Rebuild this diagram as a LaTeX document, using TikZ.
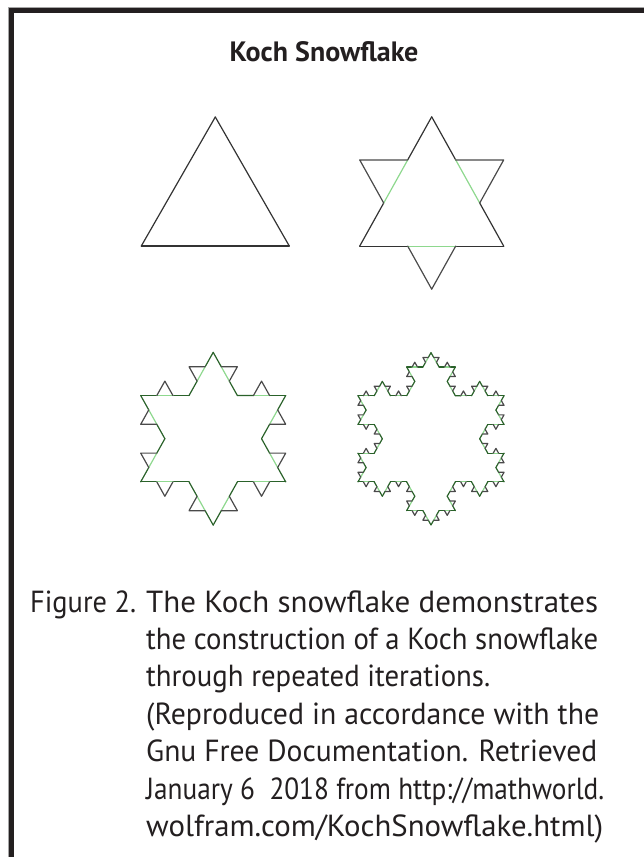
\documentclass[tikz,border=0pt]{standalone}
\usepackage{graphicx}
\usepackage{fontspec}
\setmainfont{PT Sans}
\definecolor{framecol}{HTML}{231F20}
\definecolor{inkcol}{HTML}{333333}
\definecolor{bumpcol}{HTML}{4A4A4A}
\definecolor{keptgreen}{HTML}{2A622A}
\definecolor{lightgreen}{HTML}{8ED88E}
\tikzset{
  keptline/.style={draw=inkcol, line width=1.2pt, line cap=round},
  midline/.style={draw=lightgreen, line width=1.2pt, line cap=round},
  bumpline/.style={draw=bumpcol, line width=1.2pt, line cap=round, line join=round},
  plainline/.style={draw=inkcol, line width=1.2pt, line cap=round},
  captext/.style={inner sep=0pt, anchor=base west, text=framecol, font=\fontsize{30.5}{37}\selectfont},
}
\newcommand\fitline[2]{\resizebox{#1pt}{\height}{#2}}
\newcommand\kochsegs[5]{%
  \ifnum#1=0\relax
    \kochleaf{#2}{#3}{#4}{#5}%
  \else
    \begingroup
      \pgfmathsetmacro\kpx{#2+(#4-#2)/3}%
      \pgfmathsetmacro\kpy{#3+(#5-#3)/3}%
      \pgfmathsetmacro\kqx{#2+2*(#4-#2)/3}%
      \pgfmathsetmacro\kqy{#3+2*(#5-#3)/3}%
      \pgfmathsetmacro\ktx{\kpx+0.5*(\kqx-\kpx)-0.8660254*(\kqy-\kpy)}%
      \pgfmathsetmacro\kty{\kpy+0.8660254*(\kqx-\kpx)+0.5*(\kqy-\kpy)}%
      \pgfmathtruncatemacro\kd{#1-1}%
      \edef\knext{%
        \noexpand\kochsegs{\kd}{#2}{#3}{\kpx}{\kpy}%
        \noexpand\kochsegs{\kd}{\kpx}{\kpy}{\ktx}{\kty}%
        \noexpand\kochsegs{\kd}{\ktx}{\kty}{\kqx}{\kqy}%
        \noexpand\kochsegs{\kd}{\kqx}{\kqy}{#4}{#5}}%
    \expandafter\endgroup\knext
  \fi}
\newcommand\kochplainleaf[4]{\draw[plainline] (#1,#2) -- (#3,#4);}
\newcommand\kochbumpleaf[4]{%
  \begingroup
    \pgfmathsetmacro\kpx{#1+(#3-#1)/3}%
    \pgfmathsetmacro\kpy{#2+(#4-#2)/3}%
    \pgfmathsetmacro\kqx{#1+2*(#3-#1)/3}%
    \pgfmathsetmacro\kqy{#2+2*(#4-#2)/3}%
    \pgfmathsetmacro\ktx{\kpx+0.5*(\kqx-\kpx)-0.8660254*(\kqy-\kpy)}%
    \pgfmathsetmacro\kty{\kpy+0.8660254*(\kqx-\kpx)+0.5*(\kqy-\kpy)}%
    \draw[keptline] (#1,#2) -- (\kpx,\kpy);
    \draw[keptline] (\kqx,\kqy) -- (#3,#4);
    \draw[midline] (\kpx,\kpy) -- (\kqx,\kqy);
    \draw[bumpline] (\kpx,\kpy) -- (\ktx,\kty) -- (\kqx,\kqy);
  \endgroup}
\newcommand\kochtriangle[1]{%
  \kochsegs{#1}{0}{-0.5773503}{-0.5}{0.2886751}%
  \kochsegs{#1}{-0.5}{0.2886751}{0.5}{0.2886751}%
  \kochsegs{#1}{0.5}{0.2886751}{0}{-0.5773503}}
\begin{document}
\begin{tikzpicture}[x=1pt,y=-1pt]
\useasboundingbox (0,0) rectangle (644,857);
% frame (top and left only)
\fill[black!35] (8,6.6) rectangle (644,12.8);
\fill[framecol] (9,7.6) rectangle (644,12.8);
\fill[black!35] (8,6.6) rectangle (14,857);
\fill[framecol] (9,7.6) rectangle (14,857);
% title
\node[inner sep=0pt, text=framecol, font=\fontsize{28}{32}\selectfont\bfseries] (title) at (324,52) {Koch Snowflake};
% iteration 0: triangle
\begin{scope}[shift={(215.3,203)}, xscale=148, yscale=149]
  \let\kochleaf\kochplainleaf
  \kochtriangle{0}
\end{scope}
% iteration 1: star
\begin{scope}[shift={(431.7,203)}, xscale=144, yscale=149.3]
  \let\kochleaf\kochbumpleaf
  \kochtriangle{0}
\end{scope}
% iteration 2
\begin{scope}[shift={(213.2,438.7)}, xscale=145, yscale=149.6]
  \tikzset{keptline/.style={draw=keptgreen, line width=1.2pt, line cap=round}}
  \let\kochleaf\kochbumpleaf
  \kochtriangle{1}
\end{scope}
% iteration 3
\begin{scope}[shift={(431,438.8)}, xscale=146, yscale=149.2]
  \tikzset{keptline/.style={draw=keptgreen, line width=1.2pt, line cap=round},
           midline/.style={draw=lightgreen, line width=1.2pt, line cap=round},
           bumpline/.style={draw=bumpcol, line width=1.2pt, line cap=round, line join=round}}
  \let\kochleaf\kochbumpleaf
  \kochtriangle{2}
\end{scope}
% caption
\node[captext] (fig) at (30,612) {\fitline{106}{Figure 2.}};
\node[captext] (c1) at (146,612) {\fitline{452}{The Koch snowflake demonstrates}};
\node[captext] (c2) at (146,649.4) {\fitline{452}{the construction of a Koch snowflake}};
\node[captext] (c3) at (146,686.8) {\fitline{344}{through repeated iterations.}};
\node[captext] (c4) at (146,724.2) {\fitline{453}{(Reproduced in accordance with the}};
\node[captext] (c5) at (146,761.6) {\fitline{451}{Gnu Free Documentation. Retrieved}};
\node[captext] (c6) at (146,799) {\fitline{458}{January 6\ \ 2018 from http://mathworld.}};
\node[captext] (c7) at (146,836.4) {\fitline{457}{wolfram.com/KochSnowflake.html)}};
\end{tikzpicture}
\end{document}
